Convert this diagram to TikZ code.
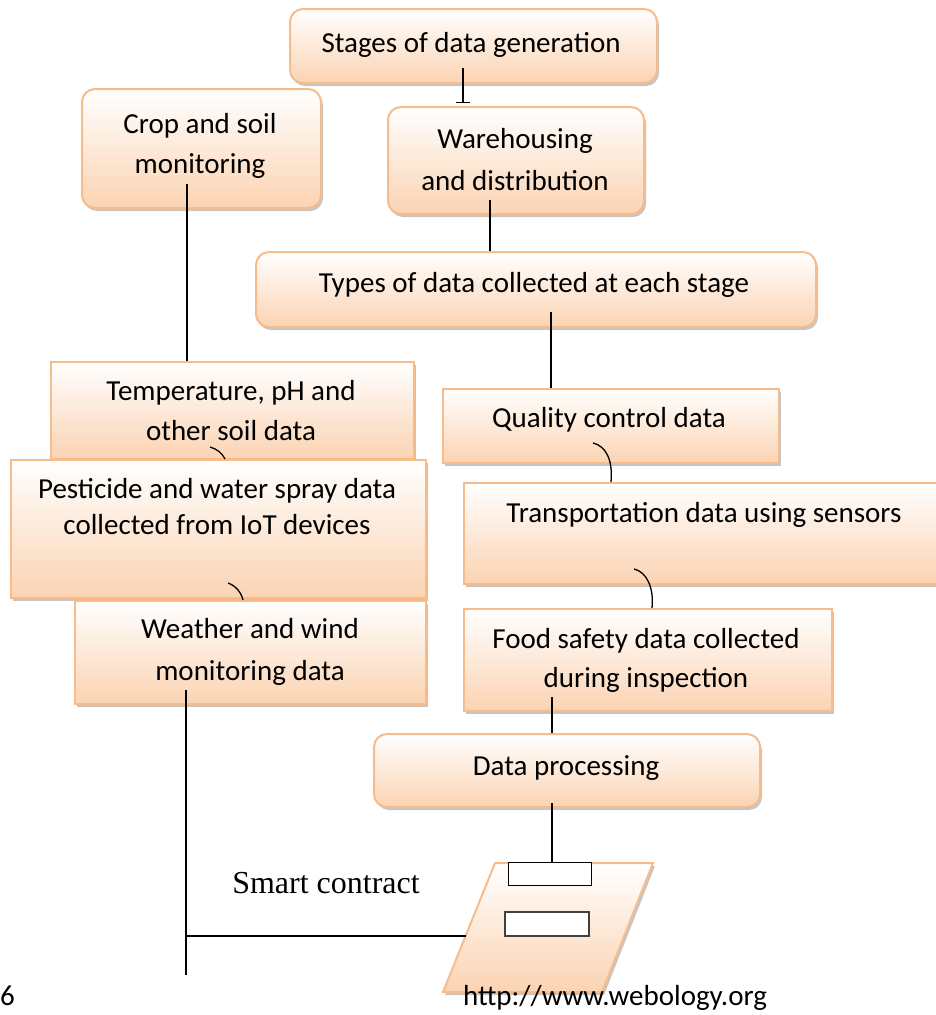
\documentclass[tikz,border=0pt]{standalone}
\usepackage{fontspec}
\setmainfont{Carlito}
\newfontfamily\timesf{Liberation Serif}
\usetikzlibrary{shadows,arrows.meta}
\definecolor{pborder}{RGB}{248,187,138}
\definecolor{pfill}{RGB}{251,211,178}
\newcommand\mytwo[2]{\begin{tabular}[t]{@{}c@{}}#1\\#2\end{tabular}}
\tikzset{
  box/.style={draw=pborder, line width=2pt, top color=white, bottom color=pfill,
    anchor=north west, inner sep=0pt,
    drop shadow={shadow xshift=2pt, shadow yshift=-3pt, fill=black!45, opacity=.5}},
  rbox/.style={box, rounded corners=13pt},
  txt/.style={font=\fontsize{29}{40}\selectfont, anchor=base, inner sep=0pt},
  txtls/.style={font=\fontsize{29}{#1}\selectfont, anchor=base, inner sep=0pt},
  conn/.style={draw=black, line width=1.3pt},
}
\begin{document}
\begin{tikzpicture}[x=1pt,y=-1pt]
\useasboundingbox (0,0) rectangle (936,1015);
\clip (0,0) rectangle (936,1015);

% boxes
\node[rbox, minimum width=367pt, minimum height=74pt] (stages) at (289,8) {};
\node[rbox, minimum width=239pt, minimum height=119pt] (crop) at (81,88) {};
\node[rbox, minimum width=256pt, minimum height=107pt] (ware) at (387,106) {};
\node[rbox, minimum width=560pt, minimum height=75pt] (types) at (255,251) {};
\node[box, minimum width=363pt, minimum height=97pt] (temp) at (50,361) {};
\node[box, minimum width=415pt, minimum height=138pt] (pest) at (10,459) {};
\node[box, minimum width=351pt, minimum height=103pt] (weather) at (74,600) {};
\node[box, minimum width=336pt, minimum height=74pt] (quality) at (442,388) {};
\node[box, minimum width=482pt, minimum height=101pt] (trans) at (463,482) {};
\node[box, minimum width=368pt, minimum height=102pt] (food) at (463,608) {};
\node[rbox, minimum width=386pt, minimum height=73pt] (dp) at (373,733) {};

% texts
\node[txt] (tstages) at (471,52) {Stages of data generation};
\node[txtls=40] (tcrop) at (200,133) {\mytwo{Crop and soil}{monitoring}};
\node[txtls=42] (tware) at (515,148) {\mytwo{Warehousing}{and distribution}};
\node[txt] (ttypes) at (534,292) {Types of data collected at each stage};
\node[txtls=40] (ttemp) at (231,400) {\mytwo{Temperature, pH and}{other soil data}};
\node[txtls=36] (tpest) at (217,498) {\mytwo{Pesticide and water spray data}{collected from IoT devices}};
\node[txtls=42] (tweather) at (250,638) {\mytwo{Weather and wind}{monitoring data}};
\node[txt] (tquality) at (609,427) {Quality control data};
\node[txt] (ttrans) at (704,522) {Transportation data using sensors};
\node[txtls=39] (tfood) at (646,648) {\mytwo{Food safety data collected}{during inspection}};
\node[txt] (tdp) at (566,775) {Data processing};

% smart contract symbol
\coordinate (P1) at (495,863);
\coordinate (P2) at (653,863);
\coordinate (P3) at (602,992);
\coordinate (P4) at (443,992);
\draw[draw=pborder, line width=2pt, top color=white, bottom color=pfill,
  drop shadow={shadow xshift=2pt, shadow yshift=-3pt, fill=black!45, opacity=.5}]
  (P1) -- (P2) -- (P3) -- (P4) -- cycle;
\coordinate (pl) at (466,936);
\node[draw=black, line width=1.3pt, fill=white, anchor=north west, inner sep=0pt,
  minimum width=83pt, minimum height=23pt] (sc1) at (508,862) {};
\node[draw=black!75, line width=1.5pt, fill=white, anchor=north west, inner sep=0pt,
  minimum width=84pt, minimum height=24pt] (sc2) at (504,911) {};
\node[font=\timesf\fontsize{32}{38}\selectfont, anchor=base, inner sep=0pt] (smart) at (326,893) {Smart contract};

% footer
\node[txt] (url) at (615,1005) {http://www.webology.org};
\node[txt, anchor=base west] (pg) at (0,1005) {6};

% connectors
\coordinate (s1) at (463,68);
\draw[conn, -{Bar[width=14pt,length=1.3pt]}, shorten >=3pt] (s1) -- (s1 |- ware.north);
\coordinate (w1) at (490,200);
\draw[conn] (w1) -- (w1 |- types.north);
\coordinate (c1) at (187,184);
\draw[conn] (c1) -- (c1 |- temp.north);
\coordinate (t1) at (551,312);
\draw[conn] (t1) -- (t1 |- quality.north);
\coordinate (f1) at (552,697);
\draw[conn] (f1) -- (f1 |- dp.north);
\coordinate (d1) at (552,803);
\draw[conn] (d1) -- (d1 |- sc1.north);

\coordinate (a1) at (210,447);
\coordinate (a2) at (225,459);
\draw[conn] (a1) .. controls (217,449) and (222,453) .. (a2);
\coordinate (b1) at (228,583);
\coordinate (b2) at (243,600);
\draw[conn] (b1) .. controls (236,586) and (241,592) .. (b2);
\coordinate (q1) at (593,443);
\coordinate (q2) at (611,482);
\draw[conn] (q1) .. controls (606,446) and (613,460) .. (q2);
\coordinate (r1) at (634,569);
\coordinate (r2) at (652,608);
\draw[conn] (r1) .. controls (647,572) and (654,588) .. (r2);

\coordinate (wd) at (186,690);
\coordinate (wb) at (186,975);
\draw[conn] (wd) -- (wb);
\draw[conn] (wd |- pl) -- (pl);
\end{tikzpicture}
\end{document}
